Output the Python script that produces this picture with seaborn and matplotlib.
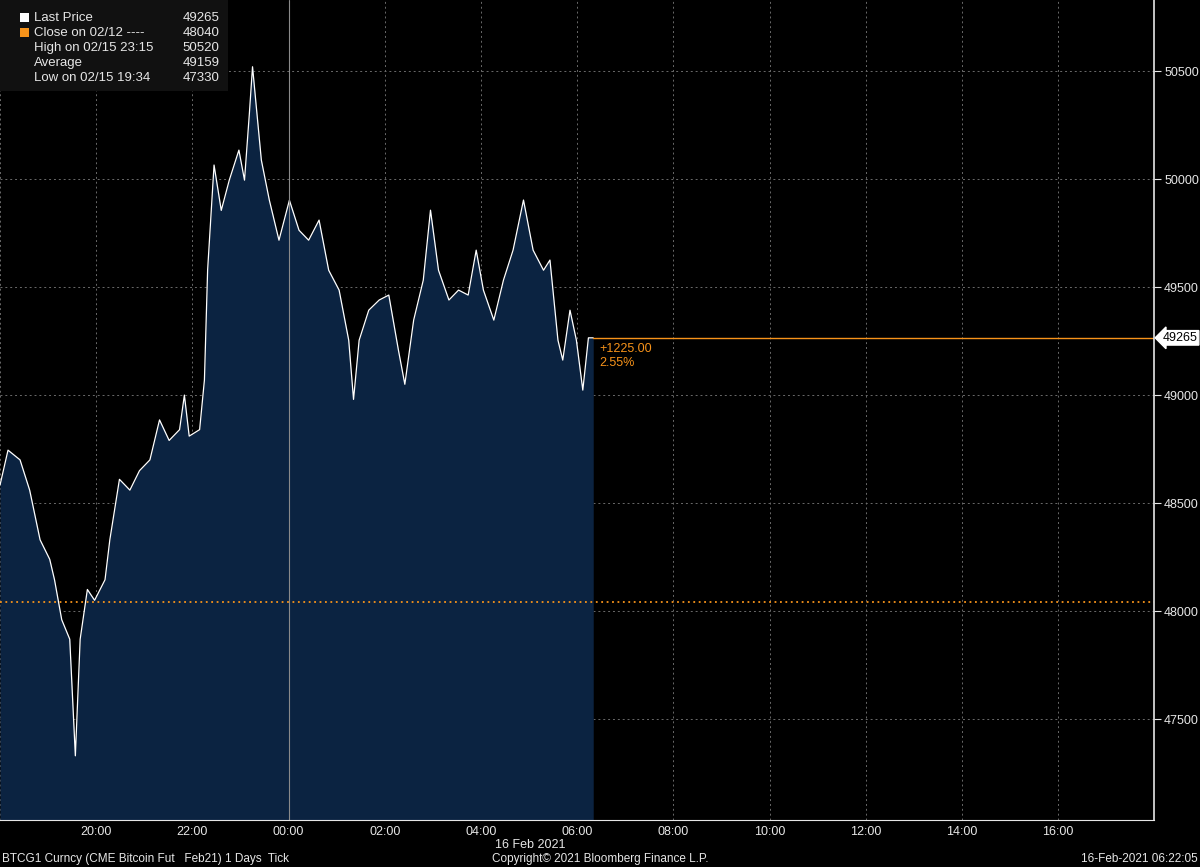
import matplotlib
matplotlib.use("Agg")
import matplotlib.pyplot as plt
import matplotlib.dates as mdates
import seaborn as sb
import pandas as pd

times = ["18:00", "18:10", "18:25", "18:37", "18:50", "19:02", "19:08", "19:17", "19:27", "19:34",
         "19:40", "19:49", "19:58", "20:11", "20:17", "20:29", "20:42", "20:54", "21:07", "21:19",
         "21:31", "21:44", "21:50", "21:56", "22:09", "22:15", "22:19", "22:27", "22:36", "22:46",
         "22:58", "23:05", "23:11", "23:15", "23:26", "23:36", "23:48", "00:01", "00:13", "00:25",
         "00:38", "00:50", "01:03", "01:15", "01:21", "01:28", "01:40", "01:53", "02:05", "02:17",
         "02:25", "02:36", "02:48", "02:57", "03:07", "03:20", "03:32", "03:44", "03:54", "04:03",
         "04:16", "04:28", "04:40", "04:53", "05:05", "05:18", "05:26", "05:36", "05:42", "05:51",
         "05:59", "06:07", "06:14", "06:20"]
prices = [48583, 48745, 48700, 48560, 48330, 48240, 48145, 47960, 47870, 47330,
          47870, 48100, 48050, 48145, 48330, 48610, 48560, 48650, 48700, 48885,
          48790, 48840, 49000, 48810, 48840, 49070, 49580, 50065, 49855, 49995,
          50134, 49995, 50300, 50520, 50088, 49902, 49717, 49902, 49763, 49717,
          49810, 49578, 49486, 49254, 48980, 49254, 49393, 49440, 49463, 49208,
          49050, 49347, 49532, 49856, 49578, 49440, 49486, 49463, 49671, 49486,
          49347, 49532, 49671, 49903, 49671, 49578, 49625, 49254, 49162, 49393,
          49254, 49023, 49265, 49265]
last_price = 49265
prev_close = 48040
change = "+1225.00"
change_pct = "2.55%"

day0 = pd.Timestamp("2021-02-15")
ts = []
for t in times:
    h, m = map(int, t.split(":"))
    d = day0 if h >= 18 else day0 + pd.Timedelta(days=1)
    ts.append(d + pd.Timedelta(hours=h, minutes=m))
df = pd.DataFrame({"time": ts, "price": prices})

sb.set_style("dark")
plt.rcParams["font.family"] = ["Liberation Sans", "DejaVu Sans"]
fg = "#e6e6e6"
orange = "#f7931a"

fig = plt.figure(figsize=(12, 8.67), dpi=100, facecolor="black")
ax = fig.add_axes([0.0, 0.054, 0.962, 0.946])
ax.set_facecolor("black")

x0 = pd.Timestamp("2021-02-15 18:00")
x1 = pd.Timestamp("2021-02-16 18:00")
ax.set_xlim(x0, x1)
ax.set_ylim(47032, 50829)

ax.fill_between(df["time"], df["price"], 47032, color="#0b2341", lw=0)
sb.lineplot(data=df, x="time", y="price", ax=ax, color="white", lw=0.9)

ax.axhline(prev_close, color=orange, ls=(0, (1, 2)), lw=1.3)
ax.plot([df["time"].iloc[-1], x1], [last_price, last_price], color=orange, lw=1)
ax.axvline(pd.Timestamp("2021-02-16 00:00"), color="#8a8a8a", lw=0.8)
ax.text(df["time"].iloc[-1] + pd.Timedelta(minutes=8), last_price - 25,
        change + "\n" + change_pct, color=orange, fontsize=9, va="top")

ax.grid(True, color="#6a6a6a", ls=(0, (2, 3)), lw=0.7)
ax.yaxis.tick_right()
ax.set_yticks([47500, 48000, 48500, 49000, 49500, 50000, 50500])
ax.tick_params(axis="y", colors=fg, labelsize=9, length=5, pad=2, direction="out")
ax.xaxis.set_major_locator(mdates.HourLocator(byhour=range(0, 24, 2)))
ax.xaxis.set_minor_locator(mdates.HourLocator())
ax.xaxis.set_major_formatter(mdates.DateFormatter("%H:%M"))
ax.tick_params(axis="x", colors=fg, labelsize=9, length=4, pad=2, direction="inout")
ax.tick_params(axis="x", which="minor", colors=fg, length=3)
ax.set_xlabel("")
ax.set_ylabel("")
for s in ["top", "left"]:
    ax.spines[s].set_visible(False)
ax.spines["right"].set_color(fg)
ax.spines["bottom"].set_color(fg)
ax.spines["right"].set_linewidth(1.2)
fig.canvas.draw()
for lab in ax.get_xticklabels():
    if lab.get_text() == "18:00":
        lab.set_visible(False)

ax.annotate(str(last_price), xy=(1.0, last_price), xycoords=("axes fraction", "data"),
            xytext=(6, 0), textcoords="offset points", va="center", fontsize=9,
            color="black", bbox=dict(boxstyle="larrow,pad=0.1", fc="white", ec="white"))

# legend box
fig.patches.append(plt.Rectangle((0.0, 0.895), 0.19, 0.105, transform=fig.transFigure,
                                 fc="#111111", ec="none", zorder=5))
rows = [("Last Price", str(last_price), "white"),
        ("Close on 02/12 ----", "48040", orange),
        ("High on 02/15 23:15", "50520", None),
        ("Average", "49159", None),
        ("Low on 02/15 19:34", "47330", None)]
for i, (lab, val, sq) in enumerate(rows):
    y = 1 - (18 + 15 * i) / 867
    if sq:
        fig.patches.append(plt.Rectangle((0.0165, y - 0.005), 0.0075, 0.0105, transform=fig.transFigure,
                                         fc=sq, ec="none", zorder=6))
    fig.text(0.028, y, lab, color=fg, fontsize=9.5, va="center", zorder=7)
    fig.text(0.183, y, val, color=fg, fontsize=9.5, va="center", ha="right", zorder=7)

fig.text(0.442, 1 - 845 / 867, "16 Feb 2021", color=fg, fontsize=9, ha="center", va="center")
fig.text(0.002, 1 - 859 / 867, "BTCG1 Curncy (CME Bitcoin Fut   Feb21) 1 Days  Tick", color=fg,
         fontsize=8.5, va="center")
fig.text(0.5, 1 - 859 / 867, "Copyright\u00a9 2021 Bloomberg Finance L.P.", color=fg, fontsize=8.5,
         ha="center", va="center")
fig.text(0.998, 1 - 859 / 867, "16-Feb-2021 06:22:05", color=fg, fontsize=8.5, ha="right", va="center")

fig.savefig("out.png", facecolor="black")
